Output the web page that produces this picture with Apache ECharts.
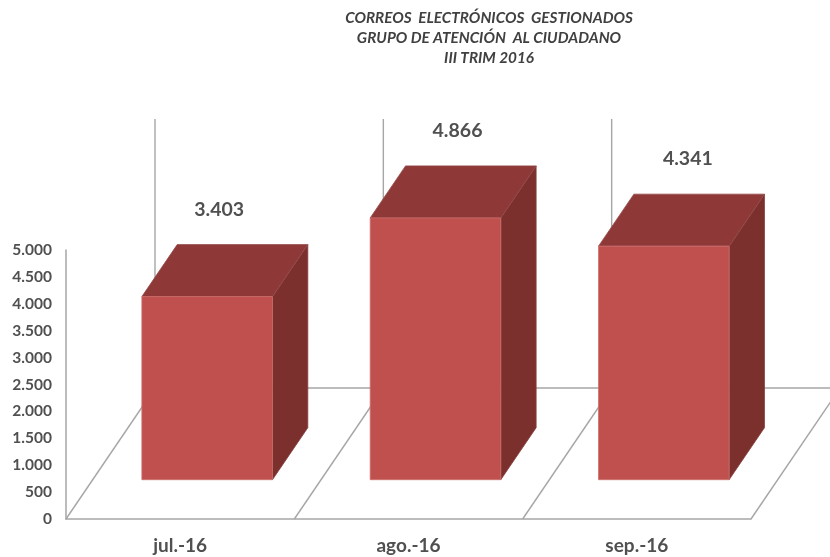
<!DOCTYPE html>
<html><head><meta charset="utf-8">
<script src="https://cdn.jsdelivr.net/npm/echarts@6/dist/echarts.min.js"></script>
<style>html,body{margin:0;padding:0;background:#fff}#c{width:830px;height:557px}</style>
</head><body><div id="c"></div>
<script>
const categories = ['jul.-16', 'ago.-16', 'sep.-16'];
const emails = [3403, 4866, 4341];
const titleLines = ['CORREOS  ELECTRÓNICOS  GESTIONADOS', 'GRUPO DE ATENCIÓN  AL CIUDADANO', 'III TRIM 2016'];

const DEPTH = [89, -131];            // floor depth in pixels
const BAR_FROM = 0.30, BAR_TO = 0.697; // bar position along floor depth
const BAR_W = 0.572;                 // bar width as share of a category
const LABEL_DX = [12, 22, 24];       // hand-placed label shift from bar centre
const LINE = '#a6a6a6';
const FONT = 'Lato, Carlito, sans-serif';

const chart = echarts.init(document.getElementById('c'));

function floorItem(params, api) {
  const i = api.value(0);
  const base = api.coord([i, 0]);
  const top = api.coord([i, 5000]);
  const w = api.size([1, 0])[0];
  const x0 = base[0] - w / 2, x1 = base[0] + w / 2, y = base[1];
  const st = { stroke: LINE, lineWidth: 1.4, fill: null };
  const seg = (a, b, c, d) => ({ type: 'line', shape: { x1: a, y1: b, x2: c, y2: d }, style: st });
  const kids = [
    seg(x0, y, x0 + DEPTH[0], y + DEPTH[1]),
    seg(x0 + DEPTH[0], y + DEPTH[1], x1 + DEPTH[0], y + DEPTH[1]),
    seg(x0 + DEPTH[0], y + DEPTH[1], x0 + DEPTH[0], top[1] + DEPTH[1])
  ];
  if (i === categories.length - 1) kids.push(seg(x1, y, x1 + DEPTH[0], y + DEPTH[1]));
  return { type: 'group', silent: true, children: kids };
}

function barItem(params, api) {
  const i = api.value(0);
  const base = api.coord([i, 0]);
  const top = api.coord([i, api.value(1)]);
  const w = api.size([1, 0])[0] * BAR_W;
  const fx = DEPTH[0] * BAR_FROM + 0.3, fy = DEPTH[1] * BAR_FROM;
  const dx = DEPTH[0] * (BAR_TO - BAR_FROM), dy = DEPTH[1] * (BAR_TO - BAR_FROM);
  const l = base[0] - w / 2 + fx, r = base[0] + w / 2 + fx;
  const b = base[1] + fy, t = top[1] + fy;
  const poly = (pts, fill, edge) => ({ type: 'polygon', shape: { points: pts }, style: { fill, stroke: edge, lineWidth: 0.8 } });
  const cx = (l + r) / 2;
  return { type: 'group', children: [
    poly([[r, b], [r + dx, b + dy], [r + dx, t + dy], [r, t]], '#7B302E', '#84403e'),
    poly([[l, t], [r, t], [r + dx, t + dy], [l + dx, t + dy]], '#8E3937', '#96494a'),
    poly([[l, t], [r, t], [r, b], [l, b]], '#C0504D', '#cc6f6c'),
    { type: 'text', style: {
        x: cx + LABEL_DX[i], y: t + dy - 35,
        text: echarts.format.addCommas(api.value(1)).replace(',', '.'),
        fill: '#505050', font: 'bold 19.5px ' + FONT, align: 'center', verticalAlign: 'middle' } }
  ] };
}

chart.setOption({
  animation: false,
  backgroundColor: '#fff',
  title: {
    text: titleLines.join('\n'),
    left: 484, top: 3, textAlign: 'center',
    textStyle: { fontFamily: FONT, fontStyle: 'italic', fontWeight: 'bold', fontSize: 15.3, lineHeight: 20, color: '#404040' }
  },
  grid: { left: 66, top: 250, width: 685, height: 269 },
  xAxis: {
    type: 'category', data: categories,
    axisTick: { show: false },
    axisLine: { lineStyle: { color: LINE, width: 1.5 } },
    axisLabel: { margin: 17, color: '#505050', fontFamily: FONT, fontWeight: 'bold', fontSize: 19 }
  },
  yAxis: {
    type: 'value', min: 0, max: 5000, interval: 500,
    splitLine: { show: false }, axisTick: { show: false },
    axisLine: { show: true, lineStyle: { color: LINE, width: 1.5 } },
    axisLabel: { margin: 14, color: '#505050', fontFamily: FONT, fontWeight: 'bold', fontSize: 15.5,
      formatter: v => v === 0 ? '0' : String(v).replace(/(\d)(\d{3})$/, '$1.$2') }
  },
  series: [
    { type: 'custom', name: 'floor', clip: false, z: 1, silent: true, renderItem: floorItem,
      encode: { x: 0, y: 1 }, data: categories.map((c, i) => [i, 0]) },
    { type: 'custom', name: 'Correos', clip: false, z: 2, renderItem: barItem,
      encode: { x: 0, y: 1 }, data: emails.map((v, i) => [i, v]) }
  ]
});
</script></body></html>
